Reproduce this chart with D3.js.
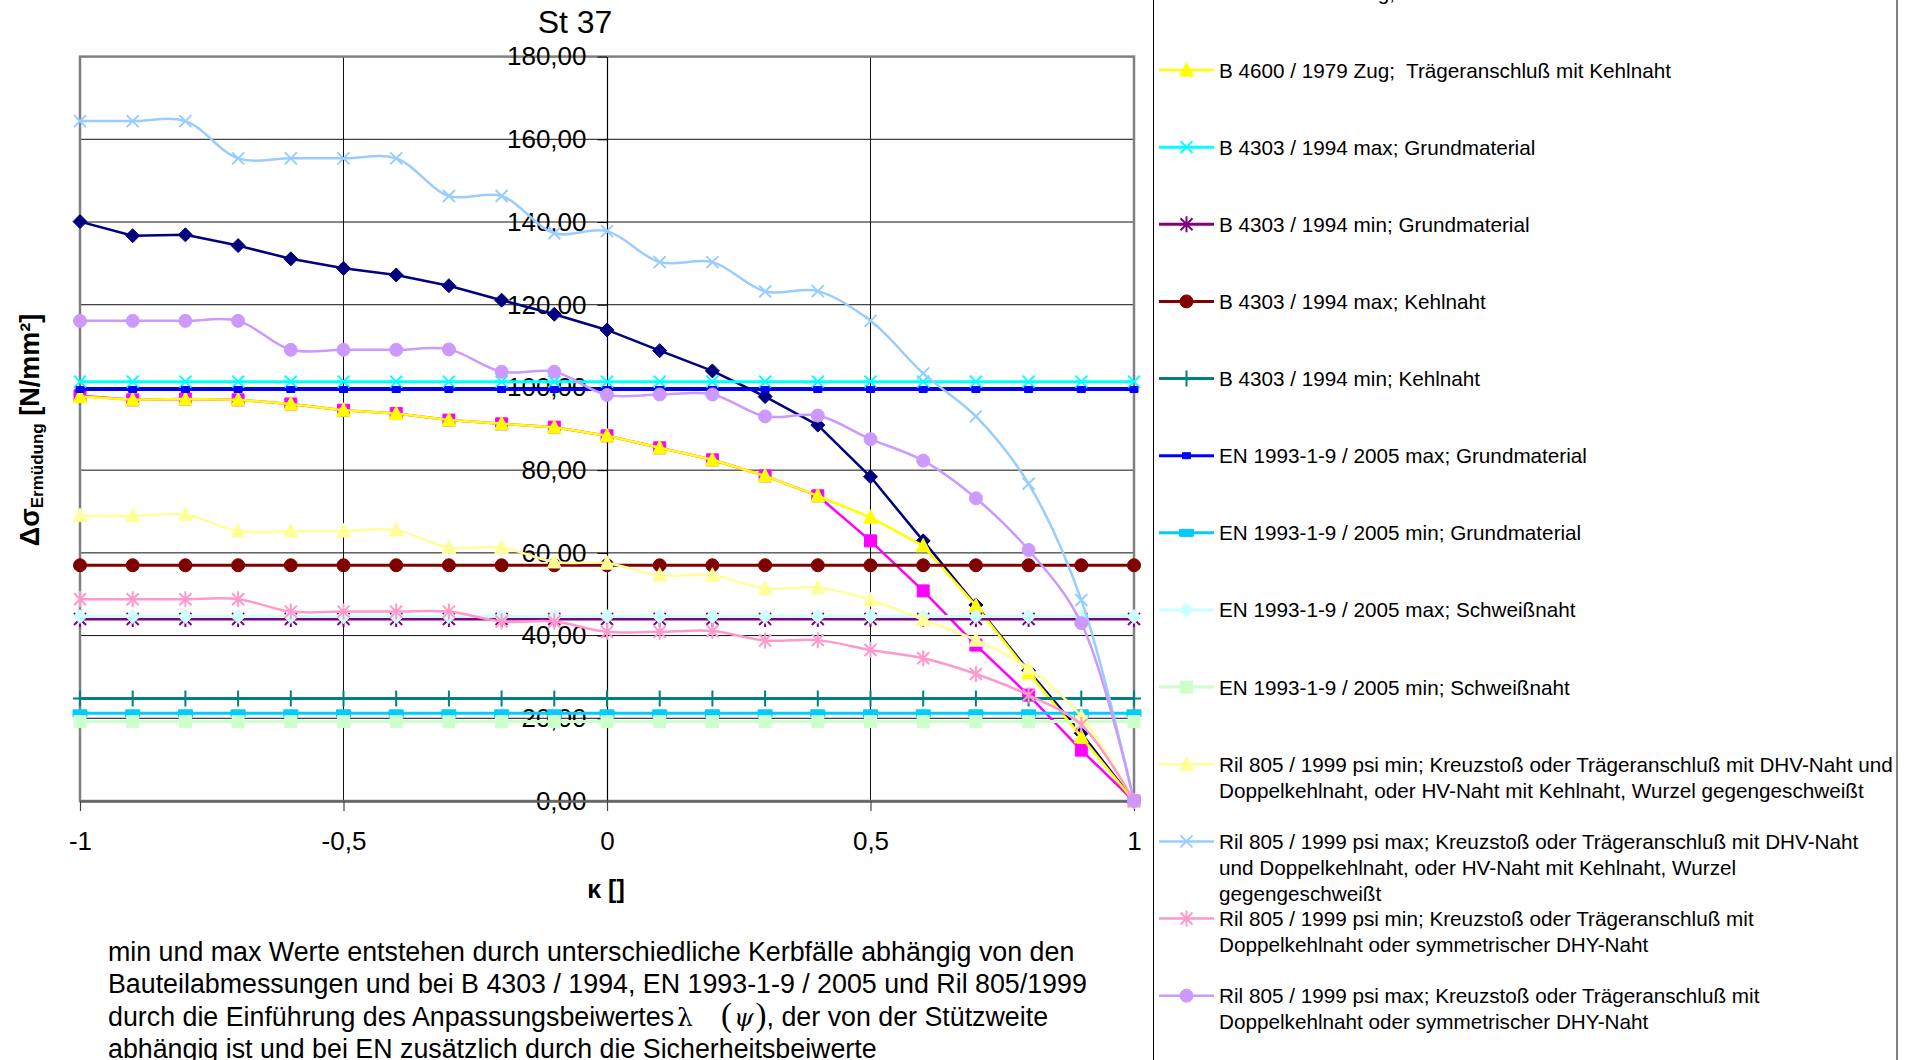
<!DOCTYPE html>
<html><head><meta charset="utf-8">
<script src="https://cdn.jsdelivr.net/npm/d3@7"></script>
<style>
html,body{margin:0;padding:0;background:#fff;overflow:hidden}
svg{display:block;font-family:"Liberation Sans",Arial,Helvetica,sans-serif}
</style></head><body>
<svg id="c" width="1930" height="1060"></svg>
<script>
// ---------------- DATA ----------------
const chartTitle = "St 37";
const kappa = [-1, -0.9, -0.8, -0.7, -0.6, -0.5, -0.4, -0.3, -0.2, -0.1, 0, 0.1, 0.2, 0.3, 0.4, 0.5, 0.6, 0.7, 0.8, 0.9, 1];
const xTickValues = [-1, -0.5, 0, 0.5, 1];
const xTickLabels = ["-1", "-0,5", "0", "0,5", "1"];
const yTickValues = [0, 20, 40, 60, 80, 100, 120, 140, 160, 180];

const seriesNames = [
  "B 4600 / 1979 Zug; Grundmaterial",
  "B 4600 / 1979 Zug;  Kreuzstoß mit Kehlnaht",
  "B 4600 / 1979 Zug;  Trägeranschluß mit Kehlnaht",
  "B 4303 / 1994 max; Grundmaterial",
  "B 4303 / 1994 min; Grundmaterial",
  "B 4303 / 1994 max; Kehlnaht",
  "B 4303 / 1994 min; Kehlnaht",
  "EN 1993-1-9 / 2005 max; Grundmaterial",
  "EN 1993-1-9 / 2005 min; Grundmaterial",
  "EN 1993-1-9 / 2005 max; Schweißnaht",
  "EN 1993-1-9 / 2005 min; Schweißnaht",
  "Ril 805 / 1999 psi min; Kreuzstoß oder Trägeranschluß mit DHV-Naht und\nDoppelkehlnaht, oder HV-Naht mit Kehlnaht, Wurzel gegengeschweißt",
  "Ril 805 / 1999 psi max; Kreuzstoß oder Trägeranschluß mit DHV-Naht\nund Doppelkehlnaht, oder HV-Naht mit Kehlnaht, Wurzel\ngegengeschweißt",
  "Ril 805 / 1999 psi min; Kreuzstoß oder Trägeranschluß mit\nDoppelkehlnaht oder symmetrischer DHY-Naht",
  "Ril 805 / 1999 psi max; Kreuzstoß oder Trägeranschluß mit\nDoppelkehlnaht oder symmetrischer DHY-Naht"
];

const b4600Grund      = [140.1, 136.7, 136.9, 134.3, 131.1, 128.8, 127.2, 124.6, 121.1, 117.7, 113.9, 108.9, 104.0, 97.8, 90.9, 78.4, 62.9, 47.4, 31.5, 16.4, 0];
const b4600Kreuz      = [98.0, 97.0, 97.2, 97.0, 96.0, 94.5, 93.7, 92.1, 91.2, 90.4, 88.3, 85.4, 82.5, 78.6, 73.8, 62.9, 50.8, 37.7, 25.6, 12.3, 0];
const b4600Traeger    = [97.8, 97.0, 97.2, 97.0, 96.0, 94.5, 93.7, 92.1, 91.2, 90.4, 88.3, 85.4, 82.5, 78.6, 73.8, 68.6, 61.7, 47.2, 31.0, 15.5, 0];
const b4303MaxGrund   = [101.4, 101.4, 101.4, 101.4, 101.4, 101.4, 101.4, 101.4, 101.4, 101.4, 101.4, 101.4, 101.4, 101.4, 101.4, 101.4, 101.4, 101.4, 101.4, 101.4, 101.4];
const b4303MinGrund   = [44.0, 44.0, 44.0, 44.0, 44.0, 44.0, 44.0, 44.0, 44.0, 44.0, 44.0, 44.0, 44.0, 44.0, 44.0, 44.0, 44.0, 44.0, 44.0, 44.0, 44.0];
const b4303MaxKehl    = [57.0, 57.0, 57.0, 57.0, 57.0, 57.0, 57.0, 57.0, 57.0, 57.0, 57.0, 57.0, 57.0, 57.0, 57.0, 57.0, 57.0, 57.0, 57.0, 57.0, 57.0];
const b4303MinKehl    = [24.8, 24.8, 24.8, 24.8, 24.8, 24.8, 24.8, 24.8, 24.8, 24.8, 24.8, 24.8, 24.8, 24.8, 24.8, 24.8, 24.8, 24.8, 24.8, 24.8, 24.8];
const enMaxGrund      = [99.5, 99.5, 99.5, 99.5, 99.5, 99.5, 99.5, 99.5, 99.5, 99.5, 99.5, 99.5, 99.5, 99.5, 99.5, 99.5, 99.5, 99.5, 99.5, 99.5, 99.5];
const enMinGrund      = [21.2, 21.2, 21.2, 21.2, 21.2, 21.2, 21.2, 21.2, 21.2, 21.2, 21.2, 21.2, 21.2, 21.2, 21.2, 21.2, 21.2, 21.2, 21.2, 21.2, 21.2];
const enMaxSchweiss   = [44.6, 44.6, 44.6, 44.6, 44.6, 44.6, 44.6, 44.6, 44.6, 44.6, 44.6, 44.6, 44.6, 44.6, 44.6, 44.6, 44.6, 44.6, 44.6, 44.6, 44.6];
const enMinSchweiss   = [19.2, 19.2, 19.2, 19.2, 19.2, 19.2, 19.2, 19.2, 19.2, 19.2, 19.2, 19.2, 19.2, 19.2, 19.2, 19.2, 19.2, 19.2, 19.2, 19.2, 19.2];
const rilMinDHV       = [69.0, 69.0, 69.2, 65.3, 65.3, 65.3, 65.5, 61.3, 61.3, 57.8, 57.5, 54.6, 54.6, 51.4, 51.6, 48.6, 43.8, 38.9, 32.1, 20.4, 0];
const rilMaxDHV       = [164.4, 164.4, 164.4, 155.4, 155.4, 155.4, 155.4, 146.3, 146.3, 137.3, 137.8, 130.3, 130.3, 123.2, 123.3, 116.1, 103.4, 93.0, 76.7, 48.6, 0];
const rilMinDHY       = [48.8, 48.8, 48.8, 48.8, 45.8, 45.8, 45.8, 45.8, 43.4, 43.4, 40.9, 40.9, 41.1, 38.8, 38.9, 36.5, 34.5, 30.7, 25.6, 18.4, 0];
const rilMaxDHY       = [116.1, 116.1, 116.1, 116.1, 109.1, 109.1, 109.1, 109.2, 103.8, 103.8, 98.2, 98.3, 98.3, 93.0, 93.2, 87.5, 82.3, 73.2, 60.7, 43.0, 0];

const seriesValues = [b4600Grund, b4600Kreuz, b4600Traeger, b4303MaxGrund, b4303MinGrund, b4303MaxKehl, b4303MinKehl,
  enMaxGrund, enMinGrund, enMaxSchweiss, enMinSchweiss, rilMinDHV, rilMaxDHV, rilMinDHY, rilMaxDHY];

const footnoteLines = [
  "min und max Werte entstehen durch unterschiedliche Kerbfälle abhängig von den",
  "Bauteilabmessungen und bei B 4303 / 1994, EN 1993-1-9 / 2005 und Ril 805/1999",
  ["durch die Einführung des Anpassungsbeiwertes", "λ", "(ψ)", ", der von der Stützweite"],
  "abhängig ist und bei EN zusätzlich durch die Sicherheitsbeiwerte"
];

// ---------------- STYLES ----------------
const styles = [
  {color:"#000080", marker:"diamond",  width:2.5, smooth:false},
  {color:"#FF00FF", marker:"square",   width:2.5, smooth:false},
  {color:"#FFFF00", marker:"triangle", width:2.5, smooth:false},
  {color:"#00FFFF", marker:"x",        width:3,   smooth:false},
  {color:"#800080", marker:"asterisk", width:3,   smooth:false},
  {color:"#800000", marker:"circle",   width:3,   smooth:false},
  {color:"#008080", marker:"plus",     width:3,   smooth:false},
  {color:"#0000FF", marker:"smallsq",  width:3,   smooth:false},
  {color:"#00CCFF", marker:"bar",      width:3,   smooth:false},
  {color:"#CCFFFF", marker:"diamond",  width:3,   smooth:false},
  {color:"#CCFFCC", marker:"square",   width:3,   smooth:false},
  {color:"#FFFF99", marker:"triangle", width:2.5, smooth:true},
  {color:"#99CCFF", marker:"x",        width:2.5, smooth:true},
  {color:"#FF99CC", marker:"asterisk", width:2.5, smooth:true},
  {color:"#CC99FF", marker:"circle",   width:2.5, smooth:true}
];

function markerPath(t){
  switch(t){
    case "diamond":  return "M0,-7L7,0L0,7L-7,0Z";
    case "square":   return "M-6,-6H6V6H-6Z";
    case "triangle": return "M0,-7.5L7,6L-7,6Z";
    case "circle":   return "M6.5,0A6.5,6.5,0,1,1,-6.5,0A6.5,6.5,0,1,1,6.5,0Z";
    case "x":        return "M-6,-6L6,6M-6,6L6,-6";
    case "asterisk": return "M-6,-6L6,6M-6,6L6,-6M0,-8L0,8";
    case "plus":     return "M-7,0L7,0M0,-8L0,8";
    case "smallsq":  return "M-4,-3H4V3H-4Z";
    case "bar":      return "M-7,-3.5H7V3.5H-7Z";
  }
}
const strokeMarkers = new Set(["x","asterisk","plus"]);

// ---------------- LAYOUT ----------------
const svg = d3.select("#c");
const X0 = 80, X1 = 1134, Y0 = 801, Y1 = 56.6;
const x = d3.scaleLinear().domain([-1, 1]).range([X0, X1]);
const y = d3.scaleLinear().domain([0, 180]).range([Y0, Y1]);

// title
svg.append("text").attr("x", 575).attr("y", 33).attr("text-anchor", "middle")
  .attr("font-size", 32).text(chartTitle);

// gridlines
const grid = svg.append("g");
grid.selectAll("line.h").data(yTickValues.filter(v => v > 0 && v < 180)).join("line")
  .attr("x1", X0).attr("x2", X1).attr("y1", d => y(d)).attr("y2", d => y(d))
  .attr("stroke", "#111").attr("stroke-width", 1);
grid.selectAll("line.v").data(xTickValues.filter(v => v > -1 && v < 1 && v !== 0)).join("line")
  .attr("x1", d => x(d)).attr("x2", d => x(d)).attr("y1", Y1).attr("y2", Y0)
  .attr("stroke", "#111").attr("stroke-width", 1);

// plot border
svg.append("rect").attr("x", X0).attr("y", Y1).attr("width", X1 - X0).attr("height", Y0 - Y1)
  .attr("fill", "none").attr("stroke", "#808080").attr("stroke-width", 2.5);

// y axis at kappa = 0
const yAxis = d3.axisLeft(y).tickValues(yTickValues).tickSizeInner(9.5).tickSizeOuter(0).tickPadding(11)
  .tickFormat(d => d.toFixed(2).replace(".", ","));
const gy = svg.append("g").attr("transform", `translate(${x(0)},0)`).call(yAxis);
gy.select(".domain").attr("stroke", "#000").attr("stroke-width", 1.2);
gy.selectAll(".tick line").attr("stroke", "#000");
gy.selectAll("text").attr("font-size", 26).attr("fill", "#000")
  .attr("font-family", '"Liberation Sans",Arial,sans-serif');

// x axis at bottom
const xAxis = d3.axisBottom(x).tickValues(xTickValues).tickSizeInner(10).tickSizeOuter(0).tickPadding(21)
  .tickFormat((d, i) => xTickLabels[i]);
const gx = svg.append("g").attr("transform", `translate(0,${Y0})`).call(xAxis);
gx.select(".domain").attr("stroke", "#666").attr("stroke-width", 2.5);
gx.selectAll(".tick line").attr("stroke", "#444").attr("stroke-width", 1.2);
gx.selectAll("text").attr("font-size", 26).attr("fill", "#000")
  .attr("font-family", '"Liberation Sans",Arial,sans-serif');

// axis titles
svg.append("text").attr("x", 606).attr("y", 898).attr("text-anchor", "middle")
  .attr("font-size", 25).attr("font-weight", "bold").text("κ []");
const yt = svg.append("text").attr("transform", "translate(39,430) rotate(-90)")
  .attr("text-anchor", "middle").attr("font-weight", "bold").attr("font-size", 27);
yt.append("tspan").text("Δσ");
yt.append("tspan").attr("font-size", 17).attr("dy", 4).text("Ermüdung");
yt.append("tspan").attr("dy", -4).text(" [N/mm²]");

// series
const lineLinear = d3.line().x((d, i) => x(kappa[i])).y(d => y(d));
const lineSmooth = d3.line().x((d, i) => x(kappa[i])).y(d => y(d)).curve(d3.curveCatmullRom.alpha(0.5));
seriesValues.forEach((vals, s) => {
  const st = styles[s];
  const g = svg.append("g");
  g.append("path").attr("d", (st.smooth ? lineSmooth : lineLinear)(vals))
    .attr("fill", "none").attr("stroke", st.color).attr("stroke-width", st.width)
    .attr("stroke-linejoin", "round");
  const isStroke = strokeMarkers.has(st.marker);
  g.selectAll("path.m").data(vals).join("path").attr("class", "m")
    .attr("transform", (d, i) => `translate(${x(kappa[i])},${y(d)})`)
    .attr("d", markerPath(st.marker))
    .attr("fill", isStroke ? "none" : st.color)
    .attr("stroke", st.color).attr("stroke-width", isStroke ? 2 : 1);
});

// legend
const LX = 1153.5, LX2 = 1897;
svg.append("rect").attr("x", LX).attr("y", -300).attr("width", LX2 - LX).attr("height", 1700)
  .attr("fill", "none").attr("stroke", "#000").attr("stroke-width", 1);
const legendY = k => 70 + (k - 2) * 77.14;
seriesNames.forEach((name, k) => {
  const st = styles[k];
  const cy = legendY(k);
  const g = svg.append("g");
  g.append("line").attr("x1", 1159).attr("x2", 1214).attr("y1", cy).attr("y2", cy)
    .attr("stroke", st.color).attr("stroke-width", st.width);
  const isStroke = strokeMarkers.has(st.marker);
  g.append("path").attr("transform", `translate(1186.5,${cy})`).attr("d", markerPath(st.marker))
    .attr("fill", isStroke ? "none" : st.color).attr("stroke", st.color).attr("stroke-width", isStroke ? 2 : 1);
  const t = g.append("text").attr("x", 1219).attr("y", cy + 7.5).attr("font-size", 20.7)
    .attr("xml:space", "preserve").style("white-space", "pre");
  name.split("\n").forEach((ln, j) => {
    t.append("tspan").attr("x", 1219).attr("dy", j === 0 ? 0 : 25.8).text(ln);
  });
});

// footnote
const fn = svg.append("g").attr("font-size", 26.8);
footnoteLines.forEach((ln, i) => {
  const t = fn.append("text").attr("x", 108).attr("y", 961 + i * 32.4);
  if (Array.isArray(ln)) {
    t.append("tspan").text(ln[0]);
    t.append("tspan").attr("dx", 3).attr("font-family", '"DejaVu Serif","Liberation Serif",serif')
      .attr("font-size", 25).text(ln[1]);
    t.append("tspan").attr("dx", 28).attr("font-family", '"Liberation Serif","DejaVu Serif",serif')
      .attr("font-size", 33).text(ln[2].slice(0, 1));
    t.append("tspan").attr("dx", 2).attr("font-family", '"DejaVu Serif","Liberation Serif",serif')
      .attr("font-style", "italic").attr("font-size", 25).text(ln[2].slice(1, 2));
    t.append("tspan").attr("dx", 2).attr("font-family", '"Liberation Serif","DejaVu Serif",serif')
      .attr("font-size", 33).text(ln[2].slice(2));
    t.append("tspan").text(ln[3]);
  } else {
    t.text(ln);
  }
});
</script>
</body></html>
